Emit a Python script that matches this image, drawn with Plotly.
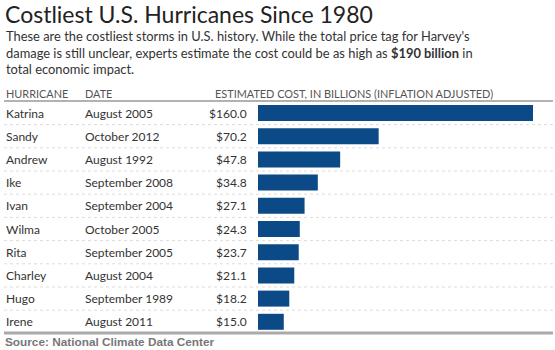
import plotly.graph_objects as go

hurricanes = ["Katrina", "Sandy", "Andrew", "Ike", "Ivan", "Wilma", "Rita", "Charley", "Hugo", "Irene"]
dates = ["August 2005", "October 2012", "August 1992", "September 2008", "September 2004",
         "October 2005", "September 2005", "August 2004", "September 1989", "August 2011"]
costs = [160.0, 70.2, 47.8, 34.8, 27.1, 24.3, 23.7, 21.1, 18.2, 15.0]

title = "Costliest U.S. Hurricanes Since 1980"
subtitle_lines = [
    "These are the costliest storms in U.S. history. While the total price tag for Harvey's",
    "damage is still unclear, experts estimate the cost could be as high as <b>$190 billion</b> in",
    "total economic impact.",
]
headers = ["HURRICANE", "DATE", "ESTIMATED COST, IN BILLIONS (INFLATION ADJUSTED)"]
source = "Source: National Climate Data Center"

W, H = 555, 350
FONT = "Lato"
TXT = "#333333"
BAR = "#0b4a87"

def px(x):
    return x / W

def py(y):
    return 1 - y / H

row0, step = 113, 23.2
ytop = (0 - row0) / step
ybot = (H - row0) / step

fig = go.Figure()
fig.add_trace(go.Bar(
    x=costs, y=hurricanes, orientation="h",
    marker=dict(color=BAR, line=dict(width=0)),
    width=0.69, hoverinfo="skip",
))

bar_x0, bar_x1_160 = 258, 533
x_right = 553
xmax = 160 * (x_right - bar_x0) / (bar_x1_160 - bar_x0)

ann = []
ann.append(dict(text=title, x=px(3), y=py(14), xref="paper", yref="paper",
                xanchor="left", yanchor="middle", showarrow=False,
                font=dict(family=FONT, size=23, color="#222222")))
for i, line in enumerate(subtitle_lines):
    ann.append(dict(text=line, x=px(4), y=py(36 + 16.5 * i), xref="paper", yref="paper",
                    xanchor="left", yanchor="middle", showarrow=False,
                    font=dict(family=FONT, size=12.9, color=TXT)))
hx = [4, 83, 213]
for h, x in zip(headers, hx):
    ann.append(dict(text=h, x=px(x), y=py(93), xref="paper", yref="paper",
                    xanchor="left", yanchor="middle", showarrow=False,
                    font=dict(family=FONT, size=10.9, color="#555555")))
for name, d, c in zip(hurricanes, dates, costs):
    ann.append(dict(text=name, x=px(4), y=name, xref="paper", yref="y",
                    xanchor="left", yanchor="middle", showarrow=False,
                    font=dict(family=FONT, size=12, color=TXT)))
    ann.append(dict(text=d, x=px(83), y=name, xref="paper", yref="y",
                    xanchor="left", yanchor="middle", showarrow=False,
                    font=dict(family=FONT, size=12, color=TXT)))
    ann.append(dict(text=f"${c:.1f}", x=px(249), y=name, xref="paper", yref="y",
                    xanchor="right", yanchor="middle", showarrow=False,
                    font=dict(family=FONT, size=12, color=TXT)))
ann.append(dict(text=f"<b>{source}</b>", x=px(3), y=py(342), xref="paper", yref="paper",
                xanchor="left", yanchor="middle", showarrow=False,
                font=dict(family="Liberation Sans", size=11.8, color="#777777")))

shapes = []
shapes.append(dict(type="line", xref="paper", yref="paper", x0=px(4), x1=px(553),
                   y0=py(101), y1=py(101), line=dict(color="#999999", width=1.5)))
for i in range(len(hurricanes) - 1):
    shapes.append(dict(type="line", xref="paper", yref="y", x0=px(4), x1=px(553),
                       y0=i + 0.5, y1=i + 0.5, line=dict(color="#dddddd", width=1, dash="dot")))
shapes.append(dict(type="line", xref="paper", yref="paper", x0=px(4), x1=px(553),
                   y0=py(333), y1=py(333), line=dict(color="#aaaaaa", width=3)))

fig.update_layout(
    width=W, height=H, margin=dict(l=0, r=0, t=0, b=0),
    paper_bgcolor="white", plot_bgcolor="rgba(0,0,0,0)",
    showlegend=False,
    xaxis=dict(domain=[px(bar_x0), px(x_right)], range=[0, xmax], visible=False, fixedrange=True),
    yaxis=dict(domain=[0, 1], type="category", categoryorder="array", categoryarray=hurricanes,
               range=[ybot, ytop], visible=False, fixedrange=True),
    annotations=ann, shapes=shapes,
)

fig.write_html("out.html", config=dict(displayModeBar=False))
